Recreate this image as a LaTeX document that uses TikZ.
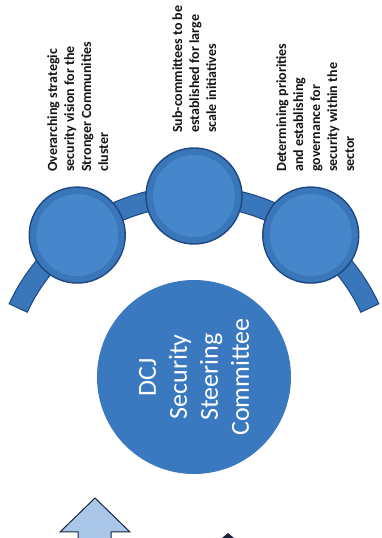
\documentclass[tikz,border=0pt]{standalone}
\usepackage{fontspec}
\setmainfont{Carlito}
\usetikzlibrary{positioning}

\definecolor{circfill}{RGB}{58,118,186}
\definecolor{circlight}{RGB}{70,134,202}
\definecolor{circedge}{RGB}{30,72,128}
\definecolor{bandfill}{RGB}{58,118,186}
\definecolor{hubfill}{RGB}{58,121,191}
\definecolor{arrowfill}{RGB}{170,198,232}
\definecolor{arrowedge}{RGB}{24,36,60}
\definecolor{labelink}{RGB}{20,20,20}

\begin{document}
\begin{tikzpicture}[
    x=1pt, y=1pt,
    smallcirc/.style={circle, draw=circedge, line width=1.4pt, fill=circfill,
                      minimum size=96pt, inner sep=0pt,
                      path picture={\fill[circlight] (path picture bounding box.center) circle (41pt);}},
    hubcirc/.style={circle, fill=hubfill, minimum size=194pt, inner sep=0pt,
                    text=white, align=center, rotate=90,
                    font=\fontsize{26}{31}\selectfont},
    lbl/.style={rotate=90, anchor=north west, inner sep=0pt, align=left,
                text=labelink, font=\fontsize{14}{17}\selectfont\bfseries},
  ]
  \useasboundingbox (0,0) rectangle (382,538);

  % --- ring band behind the three circles ---
  \coordinate (ring) at (194,148);
  \filldraw[fill=bandfill, draw=circedge, line width=1pt]
    ([shift={(25:204pt)}]ring) arc[start angle=25, end angle=155, radius=204pt]
    -- ([shift={(155:184pt)}]ring) arc[start angle=155, end angle=25, radius=184pt]
    -- cycle;

  % --- the three sub circles ---
  \node[smallcirc] (vision)   at ([shift={(127:194pt)}]ring) {};
  \node[smallcirc] (subcom)   at ([shift={(90:194pt)}]ring) {};
  \node[smallcirc] (priority) at ([shift={(53:194pt)}]ring) {};

  % --- main committee ---
  \node[hubcirc] (dcj) at (194,161) {DCJ\\ Security\\ Steering\\ Committee};

  % --- labels ---
  \node[lbl] (visiontxt) at (47,366)
    {Overarching strategic\\ security vision for the\\ Stronger Communities\\ cluster};
  \node[lbl] (subcomtxt) at (172,405)
    {Sub-committees to be\\ established for large\\ scale initiatives};
  \node[lbl] (prioritytxt) at (276,366)
    {Determining priorities\\ and establishing\\ governance for\\ security within the\\ sector};

  % --- arrows at the bottom ---
  \fill[arrowfill] (78,0) -- (78,6) -- (60,6) -- (95,40) -- (130,6) -- (111,6) -- (111,0) -- cycle;
  \draw[arrowedge, line width=1pt, line join=miter]
    (78,0) -- (78,6) -- (60,6) -- (95,40) -- (130,6) -- (111,6) -- (111,0);
  \fill[arrowedge] (222,0) -- (228,5) -- (234,0) -- cycle;
\end{tikzpicture}
\end{document}
